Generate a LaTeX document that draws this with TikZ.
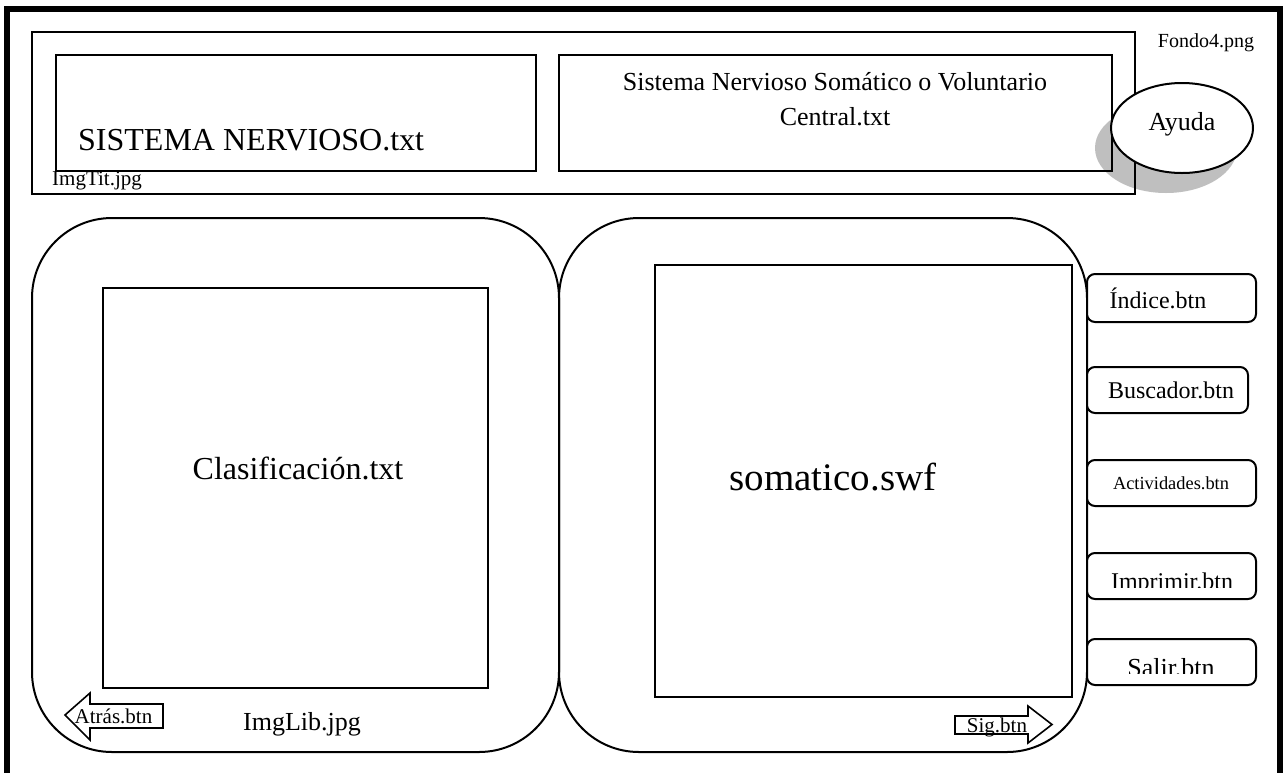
\documentclass[tikz,border=0pt]{standalone}
\usepackage{fontspec}
\setmainfont{Liberation Serif}
\newcommand{\fsz}[1]{\fontsize{#1}{1.2\dimexpr#1pt\relax}\selectfont}
\begin{document}
\begin{tikzpicture}[x=1pt,y=-1pt,
  line/.style={draw=black,line width=2pt},
  panel/.style={draw=black,line width=2pt,rounded corners=80pt},
  btnbox/.style={draw=black,line width=2pt,fill=white,rounded corners=8pt},
  arrowbox/.style={draw=black,line width=1.6pt,fill=white,line join=miter},
  lbl/.style={inner sep=0pt,anchor=base,text=black},
  lblw/.style={inner sep=0pt,anchor=base west,text=black}]
\useasboundingbox (0,0) rectangle (1288,772);
\clip (0,0) rectangle (1288,772);
\fill[white] (0,0) rectangle (1288,772);

% page frame
\draw[line width=6pt] (7,9) rectangle (1280,800);
\node[lbl] (fondo) at (1206,47) {\fsz{20}Fondo4.png};

% shadow of the help button
\fill[black!25] (1166,148) ellipse [x radius=71, y radius=45];

% title band
\draw[line] (32,32) rectangle (1135,194);
\draw[line] (56,55) rectangle (536,171);
\draw[line] (559,55) rectangle (1112,171);
\node[lblw] (titulo) at (78,150) {\fsz{32}SISTEMA NERVIOSO.txt};
\node[lblw] (imgtit) at (52,185) {\fsz{21}ImgTit.jpg};
\node[lbl] (sub1) at (835,90) {\fsz{26}Sistema Nervioso Somático o Voluntario};
\node[lbl] (sub2) at (835,125) {\fsz{26}Central.txt};

% help button
\draw[line,fill=white] (1182,128) ellipse [x radius=71, y radius=45];
\node[lbl] (ayuda) at (1182,130) {\fsz{26}Ayuda};

% book pages
\draw[panel] (32,218) rectangle (559,752);
\draw[panel] (559,218) rectangle (1087,752);
\draw[line] (103,288) rectangle (488,688);
\draw[line] (655,265) rectangle (1072,697);
\node[lbl] (clasif) at (298,479) {\fsz{32}Clasificación.txt};
\node[lbl] (swf) at (833,490) {\fsz{39}somatico.swf};
\node[lbl] (imglib) at (302,730) {\fsz{26}ImgLib.jpg};

% page arrows
\draw[arrowbox] (163,704) -- (90,704) -- (90,693) -- (65,715) -- (90,740) -- (90,728) -- (163,728) -- cycle;
\node[lbl] (atras) at (113.5,723) {\fsz{21}Atrás.btn};
\draw[arrowbox] (955,716) -- (1028,716) -- (1028,706) -- (1052,724.5) -- (1028,743) -- (1028,734) -- (955,734) -- cycle;
\node[lbl] (sig) at (997,732) {\fsz{21}Sig.btn};

% side buttons
\draw[btnbox] (1087,274) rectangle (1256,322);
\node[lbl] (indice) at (1158,308) {\fsz{24}Índice.btn};
\draw[btnbox] (1087,367) rectangle (1248,413);
\node[lbl] (buscador) at (1171,398) {\fsz{24}Buscador.btn};
\draw[btnbox] (1087,460) rectangle (1256,506);
\node[lbl] (activ) at (1171,489) {\fsz{18.4}Actividades.btn};
\draw[btnbox] (1087,553) rectangle (1256,599);
\begin{scope}
  \clip (1087,553) rectangle (1256,587);
  \node[lbl] (imprimir) at (1172,589) {\fsz{24}Imprimir.btn};
\end{scope}
\draw[btnbox] (1087,639) rectangle (1256,685);
\begin{scope}
  \clip (1087,639) rectangle (1256,673);
  \node[lbl] (salir) at (1171,676) {\fsz{26}Salir.btn};
\end{scope}
\end{tikzpicture}
\end{document}
